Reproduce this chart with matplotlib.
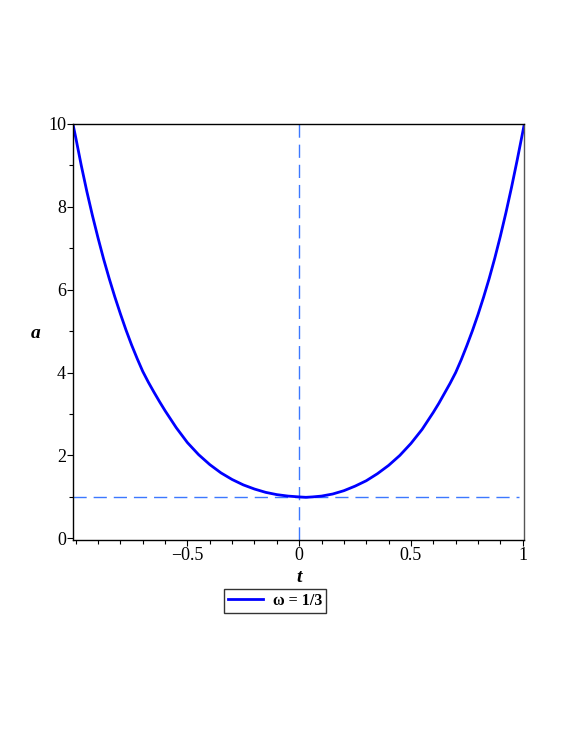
import matplotlib
matplotlib.use("Agg")
import matplotlib.pyplot as plt
from matplotlib.ticker import MultipleLocator, FixedLocator

plt.rcParams['font.family'] = ['Liberation Serif', 'DejaVu Serif']

# Curve data
t_vals = [-1.015, -1.000, -0.975, -0.950, -0.925, -0.900, -0.875, -0.850, -0.825, -0.800,
          -0.775, -0.750, -0.725, -0.700, -0.675, -0.650, -0.625, -0.600, -0.550, -0.500,
          -0.450, -0.400, -0.350, -0.300, -0.250, -0.200, -0.150, -0.100, -0.050, 0.000,
          0.030, 0.060, 0.100, 0.150, 0.200, 0.250, 0.300, 0.350, 0.400, 0.450,
          0.500, 0.550, 0.600, 0.625, 0.650, 0.675, 0.700, 0.725, 0.750, 0.775,
          0.800, 0.825, 0.850, 0.875, 0.900, 0.925, 0.950, 0.975, 1.000, 1.020]
a_vals = [10.07, 9.68, 9.00, 8.37, 7.79, 7.25, 6.74, 6.27, 5.83, 5.42,
          5.03, 4.67, 4.34, 4.03, 3.77, 3.53, 3.30, 3.08, 2.67, 2.31,
          2.02, 1.78, 1.58, 1.42, 1.29, 1.19, 1.11, 1.055, 1.02, 1.00,
          0.99, 1.00, 1.02, 1.07, 1.15, 1.26, 1.39, 1.56, 1.76, 2.00,
          2.29, 2.63, 3.04, 3.26, 3.50, 3.74, 4.00, 4.31, 4.65, 5.01,
          5.40, 5.82, 6.27, 6.76, 7.29, 7.86, 8.47, 9.12, 9.80, 10.35]
legend_label = "ω = 1/3"

hline_y = 1.0
hline_range = [-1.012, 0.983]
vline_x = 0.0

x_major = [-0.5, 0, 0.5, 1]
x_major_labels = ["\u22120.5", "0", "0.5", "1"]
y_major = [0, 2, 4, 6, 8, 10]
y_major_labels = ["0", "2", "4", "6", "8", "10"]

W, H = 565, 732
fig = plt.figure(figsize=(W / 100, H / 100), dpi=100)
ax = fig.add_axes([73 / W, 1 - 540 / H, (523.7 - 73) / W, (540 - 124) / H])

dash_col = '#3c78ff'
ax.plot(hline_range, [hline_y, hline_y], color=dash_col, lw=1, dashes=(9.5, 5))
ax.plot([vline_x, vline_x], [-0.04, 10.0], color=dash_col, lw=1, dashes=(9.5, 5))
line, = ax.plot(t_vals, a_vals, color='#0000ff', lw=2, solid_joinstyle='round')

ax.set_xlim(-1.012, 1.0045)
ax.set_ylim(-0.04, 10.0)

ax.xaxis.set_major_locator(FixedLocator(x_major))
ax.set_xticklabels(x_major_labels)
ax.xaxis.set_minor_locator(MultipleLocator(0.1))
ax.yaxis.set_major_locator(FixedLocator(y_major))
ax.set_yticklabels(y_major_labels)
ax.yaxis.set_minor_locator(MultipleLocator(1))

ax.tick_params(axis='both', which='major', direction='out', length=4, width=0.8,
               labelsize=13, pad=1, colors='black')
ax.tick_params(axis='both', which='minor', direction='out', length=3, width=0.8)
ax.tick_params(top=False, right=False, which='both')

for s in ax.spines.values():
    s.set_linewidth(1.0)
    s.set_color('black')
ax.spines['right'].set_color('#555555')

fig.text(36 / W, 1 - 333 / H, 'a', fontsize=14, fontweight='bold', style='italic',
         ha='center', va='center')
fig.text(299 / W, 1 - 577 / H, 't', fontsize=14, fontweight='bold', style='italic',
         ha='center', va='center')

leg = fig.legend([line], [legend_label], loc='center',
                 bbox_to_anchor=(275 / W, 1 - 601 / H),
                 prop={'family': ['Liberation Serif', 'DejaVu Serif'], 'weight': 'bold', 'size': 11.5},
                 frameon=True, fancybox=False, handlelength=2.2, handletextpad=0.6,
                 borderpad=0.25, borderaxespad=0)
leg.get_frame().set_edgecolor('black')
leg.get_frame().set_linewidth(1.0)

fig.savefig('out.png', dpi=100)
